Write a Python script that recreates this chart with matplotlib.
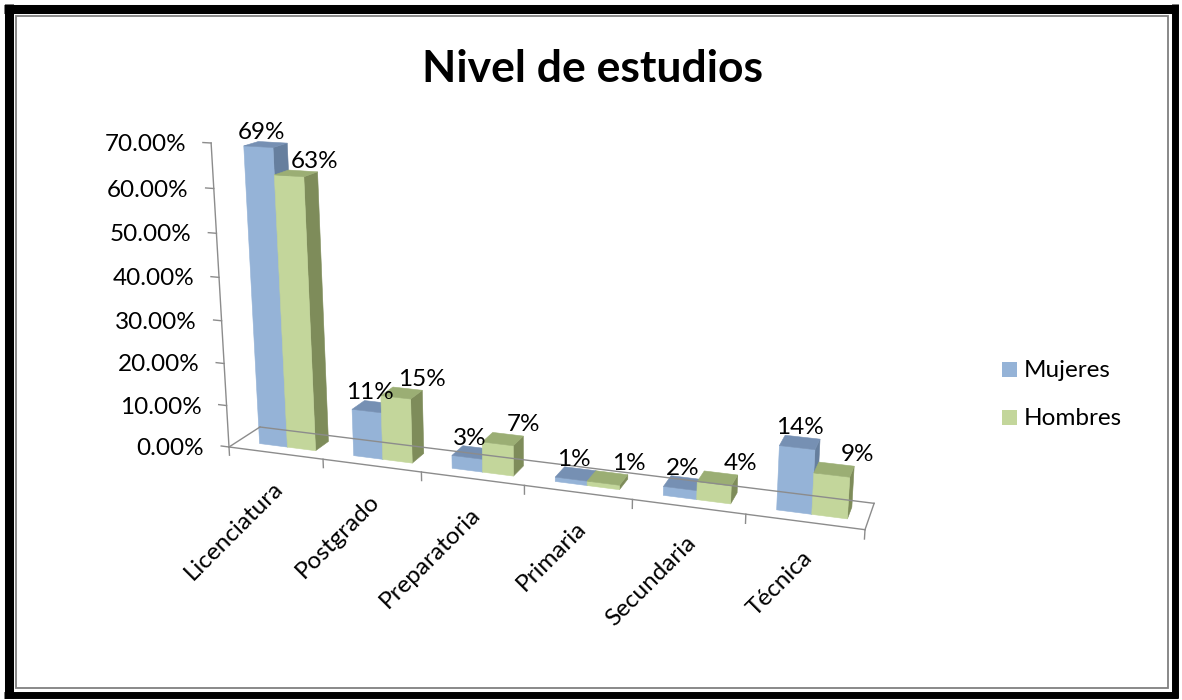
import numpy as np
import matplotlib.pyplot as plt
from matplotlib.patches import Polygon, Rectangle

plt.rcParams['font.family'] = ['Lato', 'DejaVu Sans']

# data (percent)
categories = ['Licenciatura', 'Postgrado', 'Preparatoria', 'Primaria', 'Secundaria', 'Técnica']
mujeres = [69, 11, 3, 1, 2, 14]
hombres = [63, 15, 7, 1, 4, 9]
series_names = ['Mujeres', 'Hombres']
y_ticks = [0, 10, 20, 30, 40, 50, 60, 70]

# colours: front, top, side
blue = ('#95B3D7', '#7690B3', '#667F9E')
green = ('#C3D69B', '#9BAE74', '#7E8C5A')

# simple perspective "camera" for the fake 3D look (screen pixels, y down)
FL = np.array([229.0, 447.0])      # front left corner of the floor
VP_U = np.array([-3932.0, -94.0])  # vanishing point along the categories
VP_W = np.array([1085.0, -106.0])  # vanishing point along depth
VP_Z = np.array([547.0, 5850.0])   # vanishing point of the verticals


def coef(vp, n, target, k):
    # scale so that n units along vp land on the given screen coordinate
    return (target - FL[k]) / (n * (vp[k] - target))


a_u = coef(VP_U, 6, 865.0, 0)
a_w = coef(VP_W, 1, 427.0, 1)
a_z = coef(VP_Z, 70, 143.0, 1)
P = np.column_stack([a_u * np.append(VP_U, 1), a_w * np.append(VP_W, 1),
                     a_z * np.append(VP_Z, 1), np.append(FL, 1)])


def proj(u, w, z):
    v = P @ np.array([u, w, z, 1.0])
    return v[:2] / v[2]


fig = plt.figure(figsize=(11.82, 7.0), dpi=100)
ax = fig.add_axes([0, 0, 1, 1])
ax.set_xlim(0, 1182)
ax.set_ylim(700, 0)
ax.axis('off')

# picture frame
ax.plot([8.5, 8.5], [4, 698], color='black', lw=6.5, solid_capstyle='butt')
ax.plot([4, 1178], [8.5, 8.5], color='black', lw=6.5, solid_capstyle='butt')
ax.plot([1175, 1175], [4, 698], color='black', lw=5, solid_capstyle='butt')
ax.plot([4, 1178], [695, 695], color='black', lw=5, solid_capstyle='butt')
ax.add_patch(Rectangle((15.7, 15.7), 1152.3, 672.3, fill=False, ec='#808080', lw=1.3))

grid_c = '#8C8C8C'
fs = 17.5


def seg(p, q, **kw):
    ax.plot([p[0], q[0]], [p[1], q[1]], color=grid_c, lw=1.0, **kw)


# floor outline
n = len(categories)
seg(proj(0, 0, 0), proj(n, 0, 0))
seg(proj(0, 1, 0), proj(n, 1, 0))
seg(proj(0, 0, 0), proj(0, 1, 0))
seg(proj(n, 0, 0), proj(n, 1, 0))
for i in range(n + 1):
    seg(proj(i, 0, 0), proj(i, 0, -2))

# value axis
seg(proj(0, 0, 0), proj(0, 0, max(y_ticks)))
for v in y_ticks:
    p = proj(0, 0, v)
    q = proj(-0.085, 0, v)
    seg(p, q)
    ax.text(q[0] - 17, p[1] + 8, f'{v:.2f}%', ha='right', va='baseline', fontsize=fs)

# bars, drawn back-left to front-right
w0, w1 = 0.3, 0.75
for i in range(n):
    for s, (vals, cols) in enumerate([(mujeres, blue), (hombres, green)]):
        val = vals[i]
        u0 = i + 0.23 + 0.3 * s
        u1 = u0 + 0.3
        side = [proj(u1, w0, 0), proj(u1, w1, 0), proj(u1, w1, val), proj(u1, w0, val)]
        front = [proj(u0, w0, 0), proj(u1, w0, 0), proj(u1, w0, val), proj(u0, w0, val)]
        top = [proj(u0, w0, val), proj(u1, w0, val), proj(u1, w1, val), proj(u0, w1, val)]
        for poly, c in [(side, cols[2]), (front, cols[0]), (top, cols[1])]:
            ax.add_patch(Polygon(poly, closed=True, fc=c, ec=c, lw=0.4))

# data labels
for i in range(n):
    for s, vals in enumerate([mujeres, hombres]):
        val = vals[i]
        uc = i + 0.38 + 0.3 * s
        front_top = proj(uc, w0, val)
        back_top = proj(uc, w1, val)
        dx = 3 if s == 0 else 26
        ax.text(front_top[0] + dx, back_top[1] - 3, f'{val}%',
                ha='center', va='baseline', fontsize=fs)

# category labels, right end just under the category centre
for i, cat in enumerate(categories):
    c = proj(i + 0.5, 0, 0)
    ax.text(c[0] + 9, c[1] + 37, cat, rotation=45, rotation_mode='anchor',
            ha='right', va='baseline', fontsize=fs)

# title
ax.text(592, 82, 'Nivel de estudios', ha='center', va='baseline',
        fontsize=32, fontweight='bold')

# legend
for k, (name, cols) in enumerate(zip(series_names, [blue, green])):
    y = 362 + 48 * k
    ax.add_patch(Rectangle((1002, y), 15, 15, fc=cols[0], ec='none'))
    ax.text(1024, y + 15, name, ha='left', va='baseline', fontsize=fs)

fig.savefig('out.png', dpi=100)
